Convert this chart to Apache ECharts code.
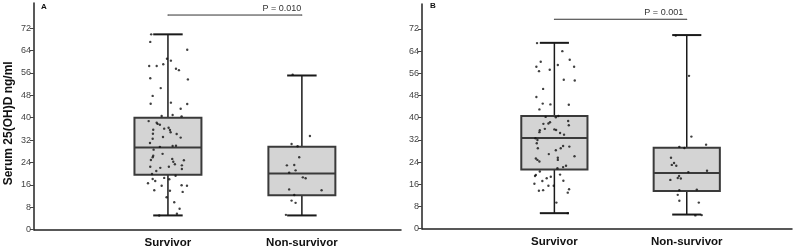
<!DOCTYPE html>
<html>
<head>
<meta charset="utf-8">
<script src="https://cdn.jsdelivr.net/npm/echarts@6/dist/echarts.min.js"></script>
<style>
  html, body { margin: 0; padding: 0; background: #fff; }
  #chart { width: 793px; height: 250px; }
</style>
</head>
<body>
<div id="chart"></div>
<script>
var categories = ['Survivor', 'Non-survivor'];
var panelLetters = ['A', 'B'];
var yTicks = [0, 8, 16, 24, 32, 40, 48, 56, 64, 72];
var pLabels = ['P = 0.010', 'P = 0.001'];
var bracketLevel = [76.7, 75.5];

// box stats: [min, Q1, median, Q3, max]
var boxA = [[5.1, 19.6, 29.4, 40.0, 69.8], [5.1, 12.3, 20.1, 29.6, 55.1]];
var boxB = [[5.6, 21.3, 32.7, 40.6, 67.0], [5.1, 13.6, 20.1, 29.2, 69.8]];

// dots: [jitter from category centre, value]
var dotsA_surv = [[-0.125,69.8],[-0.132,67.1],[0.144,64.3],[-0.007,61.1],[0.022,60.4],[-0.140,58.5],[-0.084,58.5],[-0.035,59.1],[0.060,57.5],[0.082,57.0],[-0.132,54.1],[0.149,53.7],[-0.054,50.6],[-0.114,47.8],[-0.129,45.0],[0.022,45.4],[0.144,44.9],[0.095,43.2],[-0.047,40.6],[0.035,41.0],[0.102,40.5],[-0.144,38.8],[-0.084,38.2],[-0.077,37.8],[-0.060,37.5],[-0.110,35.7],[-0.028,36.1],[0.005,36.4],[0.015,35.6],[0.020,34.8],[0.065,34.2],[-0.112,34.3],[-0.037,33.1],[0.095,32.9],[-0.114,32.5],[-0.134,31.0],[0.035,29.9],[0.060,30.0],[-0.060,29.6],[-0.107,28.6],[-0.040,27.1],[-0.110,26.4],[-0.114,25.9],[0.032,25.3],[0.040,24.3],[0.052,23.4],[0.119,24.8],[-0.127,24.9],[0.104,23.0],[-0.132,22.5],[0.007,22.5],[-0.057,22.1],[0.104,21.7],[-0.087,21.0],[-0.119,19.9],[0.057,19.3],[-0.114,18.1],[-0.095,17.4],[-0.028,18.5],[-0.149,16.6],[0.010,18.0],[-0.047,15.7],[0.102,15.9],[0.142,15.7],[-0.102,14.1],[0.015,13.9],[0.110,13.5],[-0.010,11.6],[0.047,9.8],[0.087,7.5],[0.067,5.7],[-0.065,5.1]];
var dotsA_non = [[-0.069,55.4],[0.060,33.5],[-0.077,30.6],[-0.032,29.8],[-0.020,25.9],[-0.112,23.0],[-0.057,23.1],[-0.047,21.2],[-0.095,20.4],[0.007,18.7],[0.028,18.4],[-0.095,14.4],[0.147,14.1],[-0.057,12.4],[-0.077,10.4],[-0.047,9.6],[-0.119,5.3]];
var dotsB_surv = [[-0.131,66.9],[0.060,64.0],[0.116,60.9],[-0.103,60.2],[0.026,59.0],[-0.136,58.4],[0.149,58.4],[-0.116,56.8],[-0.035,57.3],[0.071,53.7],[0.154,53.4],[-0.085,50.4],[-0.136,47.5],[-0.088,45.1],[-0.030,44.8],[0.109,44.7],[-0.113,43.0],[-0.066,40.3],[0.011,40.2],[0.030,40.6],[0.104,38.8],[0.109,37.3],[-0.045,37.9],[-0.083,37.8],[-0.033,38.4],[-0.072,36.0],[-0.110,35.5],[-0.113,34.8],[0.000,35.8],[0.013,35.6],[0.043,34.5],[0.073,33.9],[-0.143,32.6],[-0.128,32.0],[-0.133,30.8],[-0.125,29.0],[0.066,29.8],[0.048,29.0],[0.113,29.6],[0.011,28.3],[-0.042,26.9],[0.026,25.6],[0.026,24.8],[0.152,26.1],[-0.140,25.3],[-0.128,24.8],[-0.113,24.2],[0.088,22.7],[0.066,22.2],[0.023,21.8],[-0.110,20.6],[0.043,19.5],[-0.140,19.4],[-0.146,19.0],[-0.058,18.2],[-0.027,18.7],[-0.091,17.2],[0.068,17.3],[-0.151,16.2],[-0.045,15.5],[-0.005,15.5],[0.111,14.2],[0.101,13.0],[-0.117,13.7],[-0.085,13.9],[0.015,9.4],[0.101,5.6]];
var dotsB_non = [[-0.083,69.6],[0.017,55.1],[0.035,33.2],[0.146,30.3],[-0.056,29.5],[-0.018,29.1],[-0.119,25.6],[-0.096,23.7],[-0.113,23.0],[-0.079,22.7],[0.153,20.9],[0.012,20.4],[-0.058,19.0],[-0.068,18.3],[-0.045,18.1],[-0.124,17.6],[-0.056,13.9],[0.076,14.1],[-0.068,12.2],[-0.056,10.1],[0.091,9.4],[0.065,4.8],[0.113,4.9]];

var chart = echarts.init(document.getElementById('chart'));

function renderBox(params, api) {
    var x = api.value(0);
    var lo = api.coord([x, api.value(1)]);
    var q1 = api.coord([x, api.value(2)]);
    var med = api.coord([x, api.value(3)]);
    var q3 = api.coord([x, api.value(4)]);
    var hi = api.coord([x, api.value(5)]);
    var half = api.size([0.25, 0])[0];
    var cap = api.size([0.11, 0])[0];
    var cx = lo[0];
    var whisk = { stroke: '#1a1a1a', lineWidth: 1.5 };
    return {
        type: 'group',
        children: [
            { type: 'line', shape: { x1: cx, y1: hi[1], x2: cx, y2: q3[1] }, style: whisk },
            { type: 'line', shape: { x1: cx, y1: q1[1], x2: cx, y2: lo[1] }, style: whisk },
            { type: 'line', shape: { x1: cx - cap, y1: hi[1], x2: cx + cap, y2: hi[1] }, style: { stroke: '#1a1a1a', lineWidth: 2 } },
            { type: 'line', shape: { x1: cx - cap, y1: lo[1], x2: cx + cap, y2: lo[1] }, style: { stroke: '#1a1a1a', lineWidth: 2 } },
            { type: 'rect', shape: { x: cx - half, y: q3[1], width: half * 2, height: q1[1] - q3[1] },
              style: { fill: '#d4d4d4', stroke: '#3a3a3a', lineWidth: 2 } },
            { type: 'line', shape: { x1: cx - half, y1: med[1], x2: cx + half, y2: med[1] }, style: { stroke: '#3a3a3a', lineWidth: 2 } }
        ]
    };
}

var boxes = [boxA, boxB];
var dots = [[dotsA_surv, dotsA_non], [dotsB_surv, dotsB_non]];
var xMax = [2.74, 2.795];

var xAxes = [], yAxes = [], series = [];
for (var p = 0; p < 2; p++) {
    xAxes.push({
        type: 'value', gridIndex: p, min: 0, max: xMax[p],
        axisLine: { onZero: false, lineStyle: { color: '#222', width: 1.5 } },
        axisTick: { show: false },
        splitLine: { show: false },
        axisLabel: {
            customValues: [1, 2],
            formatter: function (v) { return categories[Math.round(v) - 1] || ''; },
            fontSize: 11.5, fontWeight: 'bold', color: '#111', margin: 7
        }
    });
    yAxes.push({
        type: 'value', gridIndex: p, min: 0, max: 81,
        name: p === 0 ? 'Serum 25(OH)D ng/ml' : '',
        nameLocation: 'middle', nameGap: 19,
        nameTextStyle: { fontSize: 12, fontWeight: 'bold', color: '#111', padding: [0, 14, 0, 0] },
        axisLine: { show: true, lineStyle: { color: '#222', width: 1.5 } },
        axisTick: { show: true, length: 4, customValues: yTicks, lineStyle: { color: '#444', width: 1 } },
        splitLine: { show: false },
        axisLabel: { customValues: yTicks, fontSize: 9, color: '#444', margin: 3 }
    });
    series.push({
        type: 'custom', xAxisIndex: p, yAxisIndex: p,
        renderItem: renderBox,
        encode: { x: 0, y: [1, 2, 3, 4, 5] },
        data: boxes[p].map(function (b, i) { return [i + 1].concat(b); }),
        z: 2
    });
    for (var c = 0; c < 2; c++) {
        series.push({
            type: 'scatter', xAxisIndex: p, yAxisIndex: p,
            symbol: 'circle', symbolSize: 2.4,
            itemStyle: { color: '#111' },
            data: dots[p][c].map(function (d) { return [c + 1 + d[0], d[1]]; }),
            z: 5
        });
    }
    series.push({
        type: 'line', xAxisIndex: p, yAxisIndex: p,
        symbol: 'circle', symbolSize: 1, showSymbol: true,
        itemStyle: { color: '#333' },
        lineStyle: { color: '#333', width: 1 },
        data: [
            { value: [1, bracketLevel[p]], label: { show: false } },
            { value: [2, bracketLevel[p]],
              label: { show: true, formatter: pLabels[p], position: 'top', distance: 2,
                       offset: [p === 0 ? -20 : -23, 0], fontSize: 9, color: '#333' } }
        ],
        z: 3
    });
}

chart.setOption({
    animation: false,
    textStyle: { fontFamily: 'Liberation Sans, Arial, sans-serif' },
    title: [
        { text: panelLetters[0], left: 41, top: 3, padding: 0, textStyle: { fontSize: 8, fontWeight: 'bold', color: '#111' } },
        { text: panelLetters[1], left: 430, top: 2, padding: 0, textStyle: { fontSize: 8, fontWeight: 'bold', color: '#111' } }
    ],
    grid: [
        { left: 34, top: 3, width: 367, height: 226.7 },
        { left: 422, top: 4, width: 370, height: 224.7 }
    ],
    xAxis: xAxes,
    yAxis: yAxes,
    series: series
});
</script>
</body>
</html>
